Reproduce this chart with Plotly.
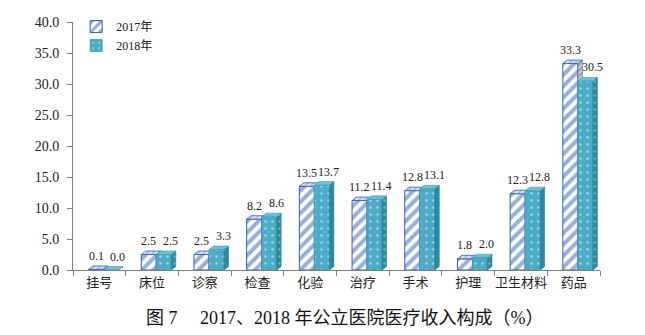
import plotly.graph_objects as go

# Revenue composition of public hospitals (%)
categories = ["挂号", "床位", "诊察", "检查", "化验", "治疗", "手术", "护理", "卫生材料", "药品"]
share_2017 = [0.1, 2.5, 2.5, 8.2, 13.5, 11.2, 12.8, 1.8, 12.3, 33.3]
share_2018 = [0.0, 2.5, 3.3, 8.6, 13.7, 11.4, 13.1, 2.0, 12.8, 30.5]
y_ticks = [0, 5, 10, 15, 20, 25, 30, 35, 40]

# pseudo-3D bar geometry (in axis units)
BAR_W = 0.285
OFF_17 = -0.205
OFF_18 = OFF_17 + BAR_W
DX = 0.085   # depth, horizontal
DY = 0.56    # depth, vertical

SERIF = "'Liberation Serif', 'DejaVu Serif', serif"
CJK = "Noto Sans CJK SC"

BLUE = "#2c5fbf"
TEAL = "#4bacc6"
TEAL_DARK = "#2f88a1"
TEAL_TOP = "#6cc0d6"

x_idx = list(range(len(categories)))


def side_polys(values, left_off):
    """Right-hand (depth) faces of the bars."""
    xs, ys = [], []
    for i, v in enumerate(values):
        x1 = i + left_off + BAR_W
        xs += [x1, x1, x1 + DX, x1 + DX, x1, None]
        ys += [0.0, v, v + DY, DY, 0.0, None]
    return xs, ys


def top_polys(values, left_off):
    """Top faces of the bars."""
    xs, ys = [], []
    for i, v in enumerate(values):
        x0 = i + left_off
        x1 = x0 + BAR_W
        xs += [x0, x0 + DX, x1 + DX, x1, x0, None]
        ys += [v, v + DY, v + DY, v, v, None]
    return xs, ys


fig = go.Figure()

# ---- 2017 series (base subplot) ----
fig.add_trace(go.Bar(
    x=x_idx, y=share_2017, name="2017年", width=BAR_W, offset=OFF_17,
    marker=dict(color="white", line=dict(color=BLUE, width=1),
                pattern=dict(shape="/", fgcolor=BLUE, bgcolor="white", size=8, solidity=0.5)),
    xaxis="x", yaxis="y", showlegend=True,
))
sx, sy = side_polys(share_2017, OFF_17)
fig.add_trace(go.Scatter(
    x=sx, y=sy, mode="lines", fill="toself", fillcolor="#8a9bb5",
    fillpattern=dict(shape="/", fgcolor="#4f6283", bgcolor="#c9d2e0", size=4, solidity=0.45),
    line=dict(color="#4f6283", width=0.6), hoverinfo="skip", showlegend=False,
    xaxis="x", yaxis="y",
))
tx, ty = top_polys(share_2017, OFF_17)
fig.add_trace(go.Scatter(
    x=tx, y=ty, mode="lines", fill="toself", fillcolor="#b9c8e4",
    fillpattern=dict(shape="/", fgcolor="#7f8ca3", bgcolor="#dfe6f2", size=4, solidity=0.45),
    line=dict(color=BLUE, width=0.8), hoverinfo="skip", showlegend=False,
    xaxis="x", yaxis="y",
))

# ---- 2018 series (overlaid subplot, drawn on top) ----
fig.add_trace(go.Bar(
    x=x_idx, y=share_2018, name="2018年", width=BAR_W, offset=OFF_18,
    marker=dict(color=TEAL, line=dict(color="#3b9cb6", width=0.8),
                pattern=dict(shape=".", fgcolor="white", bgcolor=TEAL, size=7, solidity=0.1)),
    xaxis="x2", yaxis="y2", showlegend=True,
))
sx, sy = side_polys(share_2018, OFF_18)
fig.add_trace(go.Scatter(
    x=sx, y=sy, mode="lines", fill="toself", fillcolor=TEAL_DARK,
    fillpattern=dict(shape=".", fgcolor="#a9dbe8", bgcolor=TEAL_DARK, size=7, solidity=0.1),
    line=dict(color="#2a7d94", width=0.6), hoverinfo="skip", showlegend=False,
    xaxis="x2", yaxis="y2",
))
tx, ty = top_polys(share_2018, OFF_18)
fig.add_trace(go.Scatter(
    x=tx, y=ty, mode="lines", fill="toself", fillcolor=TEAL_TOP,
    line=dict(color="#3b9cb6", width=0.6), hoverinfo="skip", showlegend=False,
    xaxis="x2", yaxis="y2",
))

# value labels
annotations = []
for i, (a, b) in enumerate(zip(share_2017, share_2018)):
    annotations.append(dict(
        x=i + OFF_17 + BAR_W / 2, y=a + DY, xref="x", yref="y",
        text=f"{a:.1f}", showarrow=False, yanchor="bottom", yshift=1,
        font=dict(family=SERIF, size=12, color="#222"),
    ))
    annotations.append(dict(
        x=i + OFF_18 + BAR_W / 2 + 0.13, y=b + DY, xref="x", yref="y",
        text=f"{b:.1f}", showarrow=False, yanchor="bottom", yshift=1,
        font=dict(family=SERIF, size=12, color="#222"),
    ))

annotations.append(dict(
    x=0.516, y=-0.192, xref="paper", yref="paper",
    text="图 7　 2017、2018 年公立医院医疗收入构成（%）",
    showarrow=False, xanchor="center", yanchor="middle",
    font=dict(family=SERIF + ", 'Noto Sans CJK SC'", size=18, color="#111"),
))

x_range = [-0.5, len(categories) - 0.5]
y_range = [0, 40]
boundaries = [k - 0.5 for k in range(len(categories) + 1)]

fig.update_layout(
    width=645, height=335,
    margin=dict(l=73, r=45, t=20, b=65),
    paper_bgcolor="white", plot_bgcolor="white",
    font=dict(family=SERIF),
    barmode="overlay",
    showlegend=True,
    legend=dict(x=0.006, y=1.04, xanchor="left", yanchor="top",
                font=dict(family=SERIF + ", 'Noto Sans CJK SC'", size=12, color="#222"),
                bgcolor="rgba(0,0,0,0)", itemwidth=30, tracegroupgap=2),
    xaxis=dict(
        range=x_range, tickmode="array", tickvals=x_idx, ticktext=categories,
        ticks="", showgrid=False, zeroline=False,
        showline=True, linecolor="#7f7f7f", linewidth=1,
        tickfont=dict(family=CJK, size=13, color="#222"),
        minor=dict(tickmode="array", tickvals=boundaries, ticks="outside",
                   ticklen=5, tickcolor="#7f7f7f", showgrid=False),
    ),
    yaxis=dict(
        range=y_range, tickmode="array", tickvals=y_ticks,
        ticktext=[f"{t:.1f}" for t in y_ticks],
        ticks="outside", ticklen=5, tickcolor="#7f7f7f",
        showgrid=False, zeroline=False,
        showline=True, linecolor="#7f7f7f", linewidth=1,
        tickfont=dict(family=SERIF, size=14, color="#222"),
        ticklabelstandoff=5,
    ),
    xaxis2=dict(range=x_range, overlaying="x", visible=False, matches="x"),
    yaxis2=dict(range=y_range, overlaying="y", visible=False, matches="y"),
    annotations=annotations,
)

fig.write_html("out.html")
